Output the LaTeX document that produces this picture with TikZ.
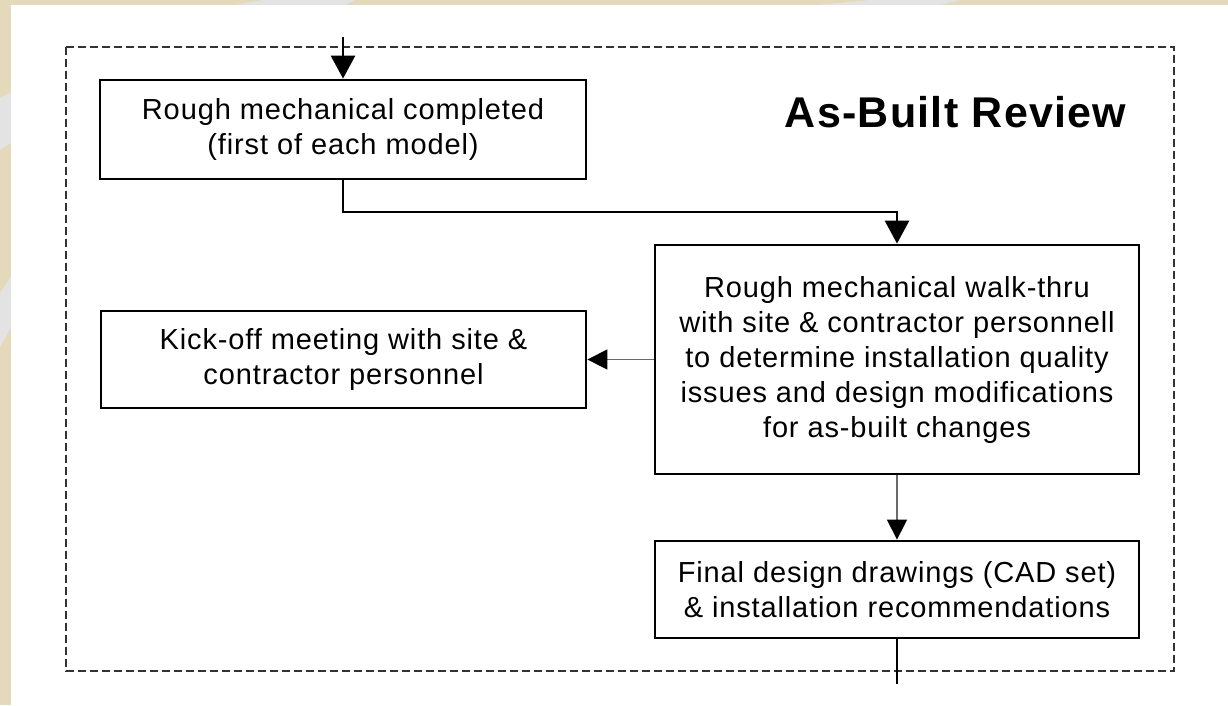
\documentclass[tikz,border=0pt]{standalone}
\usepackage{fontspec}
\setmainfont{Liberation Sans}[LetterSpace=3]
\newfontfamily\headfont{Liberation Sans}[LetterSpace=3]
\usetikzlibrary{arrows.meta}
\definecolor{sand}{HTML}{E5D9BC}
\definecolor{swoosh}{HTML}{E3E3E3}
\definecolor{frameline}{HTML}{333333}
\definecolor{thinline}{HTML}{6A6A6A}
\begin{document}
\begin{tikzpicture}[x=1pt,y=-1pt,
  stepbox/.style={draw=black, line width=2.8pt, fill=white, rectangle,
    align=center, inner sep=0pt, font=\fontsize{29}{35}\selectfont},
  heavy/.style={draw=black, line width=2.8pt},
  light/.style={draw=thinline, line width=1.3pt},
  bighead/.style={-{Triangle[length=23pt,width=24pt,color=black]}},
  smallhead/.style={-{Triangle[length=20pt,width=20pt,color=black]}},
  group/.style={draw=frameline, line width=1.2pt, dash pattern=on 8pt off 4pt}]
% slide background
\fill[sand] (0,0) rectangle (1228,705);
\fill[swoosh] (0,98) -- (11,92) -- (11,143) -- (0,150) -- cycle;
\fill[swoosh] (0,293) -- (11,277) -- (11,328) -- (0,347) -- cycle;
\fill[swoosh] (235,5) -- (262,0) -- (355,0) -- (345,5) -- cycle;
\fill[swoosh] (815,5) -- (870,0) -- (960,0) -- (940,5) -- cycle;
\fill[white] (11,5) rectangle (1228,705);
\useasboundingbox (0,0) rectangle (1228,705);
% process group frame and title
\draw[group] (66,47) rectangle (1174,671);
\node[anchor=east, font=\headfont\bfseries\fontsize{43}{50}\selectfont] (title) at (1130,112) {As-Built Review};
% process steps
\node[stepbox, minimum width=486pt, minimum height=99pt] (rough) at (343,129.5)
  {Rough mechanical completed\\(first of each model)};
\node[stepbox, minimum width=484pt, minimum height=229pt] (walk) at (897,359.5)
  {Rough mechanical walk-thru\\with site \& contractor personnell\\to determine installation quality\\issues and design modifications\\for as-built changes};
\node[stepbox, minimum width=485pt, minimum height=97pt] (kick) at (343.5,359.5)
  {Kick-off meeting with site \&\\contractor personnel};
\node[stepbox, minimum width=484pt, minimum height=97pt] (final) at (897,589.5)
  {Final design drawings (CAD set)\\\& installation recommendations};
% free ends of the incoming and outgoing flow
\coordinate (in) at (343,37);
\coordinate (out) at (897,684);
\coordinate (bend) at (343,212);
% connectors
\draw[heavy, bighead] (in) -- (rough.north);
\draw[heavy, bighead] (rough.south) -- (bend) -| (walk.north);
\draw[light, smallhead] (walk.west) -- (kick.east);
\draw[light, smallhead] (walk.south) -- (final.north);
\draw[heavy] (final.south) -- (out);
\end{tikzpicture}
\end{document}
